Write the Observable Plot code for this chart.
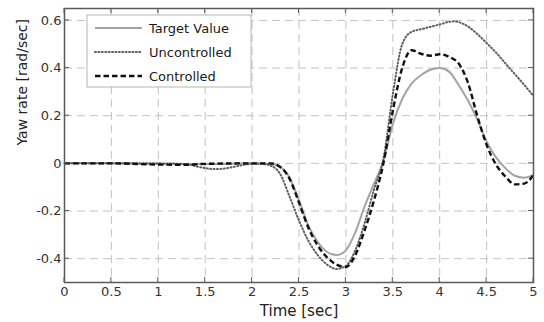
<!DOCTYPE html>
<html><head><meta charset="utf-8">
<script src="https://cdn.jsdelivr.net/npm/d3@7"></script>
<script src="https://cdn.jsdelivr.net/npm/@observablehq/plot@0.6"></script>
<style>html,body{margin:0;padding:0;background:#fff}</style>
</head><body><div id="chart"></div>
<script>
// ---- data ----
const xTicks = [0, 0.5, 1, 1.5, 2, 2.5, 3, 3.5, 4, 4.5, 5];
const yTicks = [-0.4, -0.2, 0, 0.2, 0.4, 0.6];
const seriesNames = ["Target Value", "Uncontrolled", "Controlled"];

const tTarget = [0, 0.5, 1, 1.5, 2, 2.2, 2.3, 2.4, 2.5, 2.6, 2.7, 2.8, 2.9, 3.0, 3.1, 3.2, 3.3, 3.4, 3.5, 3.6, 3.7, 3.8, 3.9, 4.0, 4.1, 4.2, 4.3, 4.4, 4.5, 4.6, 4.7, 4.8, 4.9, 5.0];
const yTarget = [0, 0, -0.003, -0.003, 0, -0.003, -0.015, -0.06, -0.155, -0.26, -0.33, -0.372, -0.385, -0.365, -0.29, -0.18, -0.085, 0.01, 0.165, 0.27, 0.335, 0.37, 0.393, 0.4, 0.385, 0.33, 0.265, 0.185, 0.092, 0.025, -0.02, -0.052, -0.06, -0.05];

const tUnc = [0, 0.5, 1, 1.3, 1.4, 1.5, 1.6, 1.7, 1.8, 1.9, 2.0, 2.1, 2.2, 2.3, 2.4, 2.5, 2.6, 2.7, 2.8, 2.9, 3.0, 3.1, 3.2, 3.3, 3.4, 3.5, 3.6, 3.7, 3.8, 3.9, 4.0, 4.1, 4.15, 4.2, 4.3, 4.4, 4.5, 4.6, 4.7, 4.8, 4.9, 5.0];
const yUnc = [0, 0, 0, -0.003, -0.012, -0.02, -0.024, -0.022, -0.015, -0.007, -0.002, -0.002, -0.01, -0.045, -0.14, -0.24, -0.325, -0.385, -0.425, -0.443, -0.43, -0.365, -0.25, -0.11, 0.02, 0.29, 0.5, 0.552, 0.563, 0.573, 0.583, 0.594, 0.596, 0.593, 0.575, 0.543, 0.505, 0.465, 0.42, 0.375, 0.33, 0.282];

const tCtl = [0, 0.5, 1, 1.3, 1.5, 2, 2.2, 2.3, 2.4, 2.5, 2.6, 2.7, 2.8, 2.9, 3.0, 3.1, 3.2, 3.3, 3.4, 3.5, 3.6, 3.7, 3.8, 3.9, 4.0, 4.1, 4.2, 4.3, 4.4, 4.5, 4.6, 4.7, 4.8, 4.9, 5.0];
const yCtl = [0, 0, -0.005, -0.006, -0.002, 0, 0, -0.015, -0.065, -0.165, -0.27, -0.345, -0.395, -0.425, -0.435, -0.385, -0.28, -0.155, 0.0, 0.22, 0.4, 0.475, 0.46, 0.452, 0.458, 0.447, 0.42, 0.34, 0.2, 0.078, -0.005, -0.055, -0.088, -0.085, -0.049];

const toRows = (ts, vs) => ts.map((t, i) => ({t, v: vs[i]}));
const styles = [
  {stroke: "#a3a3a3", strokeWidth: 2, strokeDasharray: null, strokeLinecap: "butt"},
  {stroke: "#5e5e5e", strokeWidth: 2, strokeDasharray: "1,2.4", strokeLinecap: "round"},
  {stroke: "#111111", strokeWidth: 2.4, strokeDasharray: "5.5,3", strokeLinecap: "butt"}
];

const fmtY = d => d === 0 ? "0" : String(d);
const fmtX = d => String(d);

const plot = Plot.plot({
  width: 544, height: 322,
  marginLeft: 64, marginRight: 11, marginTop: 8, marginBottom: 40,
  style: {fontFamily: "DejaVu Sans, sans-serif", fontSize: "13px", color: "#333", background: "#fff"},
  x: {domain: [0, 5]},
  y: {domain: [-0.5, 0.65]},
  marks: [
    Plot.gridX(xTicks, {stroke: "#c2c2c2", strokeOpacity: 1, strokeWidth: 1, strokeDasharray: "8,5"}),
    Plot.gridY(yTicks, {stroke: "#c2c2c2", strokeOpacity: 1, strokeWidth: 1, strokeDasharray: "8,5"}),
    Plot.axisX(xTicks, {tickSize: 0, tickPadding: 4, tickFormat: fmtX, label: null, fontSize: 13, fill: "#333"}),
    Plot.axisY(yTicks, {tickSize: 0, tickPadding: 3, tickFormat: fmtY, label: null, fontSize: 13, fill: "#333"}),
    Plot.text(["Time [sec]"], {frameAnchor: "bottom", dy: 33, fontSize: 15, fill: "#222"}),
    Plot.text(["Yaw rate [rad/sec]"], {frameAnchor: "left", rotate: -90, dx: -42, fontSize: 14, fill: "#222"}),
    Plot.line(toRows(tTarget, yTarget), {x: "t", y: "v", curve: "monotone-x", ...styles[0]}),
    Plot.line(toRows(tUnc, yUnc), {x: "t", y: "v", curve: "monotone-x", ...styles[1]}),
    Plot.line(toRows(tCtl, yCtl), {x: "t", y: "v", curve: "monotone-x", ...styles[2]}),
    Plot.frame({stroke: "#5a5a5a", strokeWidth: 1.5})
  ]
});

document.getElementById("chart").appendChild(plot);

// inward ticks and legend drawn with the plot's own scales
const svg = d3.select(plot);
const sx = plot.scale("x"), sy = plot.scale("y");
const x0 = sx.apply(0), x1 = sx.apply(5), yB = sy.apply(-0.5), yT = sy.apply(0.65);
const tg = svg.append("g").attr("stroke", "#5a5a5a").attr("stroke-width", 1);
xTicks.forEach(v => {
  const x = sx.apply(v);
  tg.append("line").attr("x1", x).attr("x2", x).attr("y1", yB).attr("y2", yB - 5);
  tg.append("line").attr("x1", x).attr("x2", x).attr("y1", yT).attr("y2", yT + 5);
});
yTicks.forEach(v => {
  const y = sy.apply(v);
  tg.append("line").attr("x1", x0).attr("x2", x0 + 5).attr("y1", y).attr("y2", y);
  tg.append("line").attr("x1", x1).attr("x2", x1 - 5).attr("y1", y).attr("y2", y);
});

const lg = svg.append("g").attr("font-family", "DejaVu Sans, sans-serif").attr("font-size", 13).attr("text-anchor", "start");
const lx = x0 + 23, ly = yT + 7;
lg.append("rect").attr("x", lx).attr("y", ly).attr("width", 164).attr("height", 72)
  .attr("fill", "#fff").attr("stroke", "#b5b5b5").attr("stroke-width", 1);
seriesNames.forEach((name, i) => {
  const cy = ly + 13 + i * 24;
  const s = styles[i];
  lg.append("line").attr("x1", lx + 8).attr("x2", lx + 55).attr("y1", cy).attr("y2", cy)
    .attr("stroke", s.stroke).attr("stroke-width", s.strokeWidth)
    .attr("stroke-dasharray", s.strokeDasharray).attr("stroke-linecap", s.strokeLinecap);
  lg.append("text").attr("x", lx + 62).attr("y", cy).attr("dy", "0.36em").attr("fill", "#1a1a1a").text(name);
});
</script>
</body></html>
